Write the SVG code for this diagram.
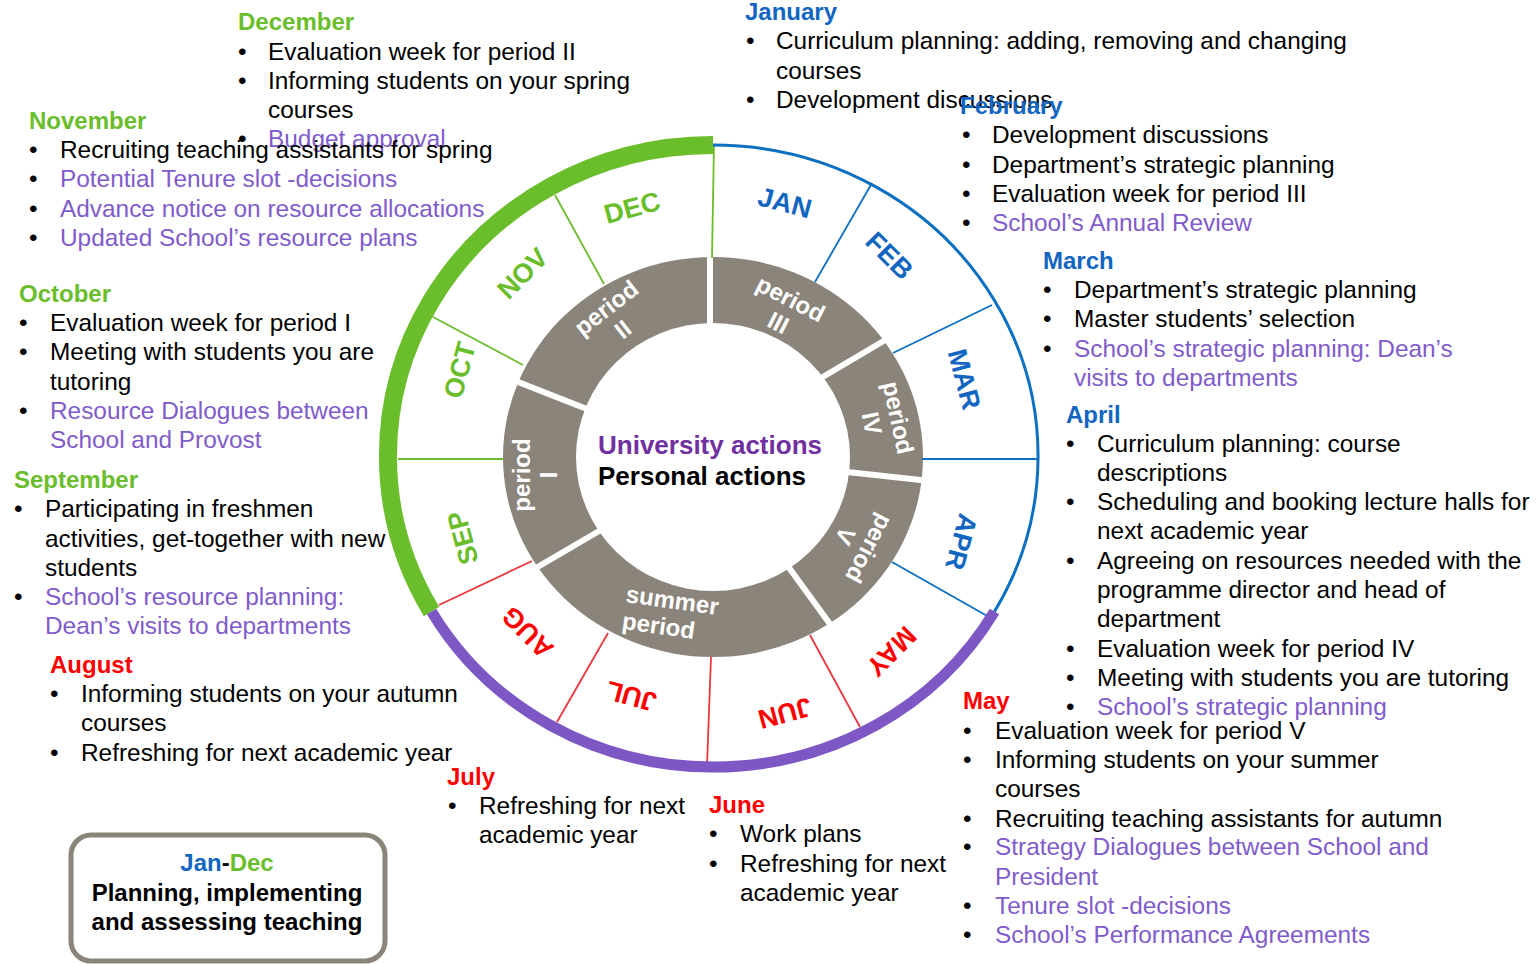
<svg xmlns="http://www.w3.org/2000/svg" width="1538" height="964" viewBox="0 0 1538 964">
<style>
text{font-family:"Liberation Sans",Arial,sans-serif;font-size:24.4px}
.h{font-weight:bold;font-size:24px}
.k{fill:#000}
.p{fill:#7F5BCB}
.g{fill:#6ABD2B}
.b{fill:#1266C1}
.r{fill:#FF0000}
.mo{font-weight:bold;font-size:27px;text-anchor:middle}
.pl{font-weight:bold;font-size:24px;fill:#fff;text-anchor:middle}
.gap{stroke:#fff;stroke-width:6}
.dg{stroke:#6ABD2B;stroke-width:1.8}
.dr{stroke:#E8383D;stroke-width:1.8}
.db{stroke:#0B6FC2;stroke-width:1.8}
</style>
<rect width="1538" height="964" fill="#fff"/>

<g id="wheel">
  <ellipse cx="713" cy="457" rx="210" ry="200" fill="#8A847B"/>
  <g id="period-gaps">
    <line class="gap" x1="710" y1="250" x2="710" y2="335"/>
    <line class="gap" x1="816" y1="381" x2="892" y2="336"/>
    <line class="gap" x1="838" y1="471" x2="930" y2="481"/>
    <line class="gap" x1="782" y1="558" x2="835" y2="631"/>
    <line class="gap" x1="606" y1="527" x2="529" y2="572"/>
    <line class="gap" x1="508" y1="378" x2="592" y2="411"/>
  </g>
  <ellipse cx="713" cy="457" rx="137" ry="134" fill="#fff"/>
</g>

<g id="connectors">
  <line class="dg" x1="712" y1="258" x2="714" y2="144"/>
  <line class="dg" x1="604" y1="284" x2="555" y2="195"/>
  <line class="dg" x1="523" y1="365" x2="433" y2="317"/>
  <line class="dg" x1="503" y1="459" x2="398" y2="459"/>
  <line class="dr" x1="532" y1="561" x2="439" y2="605"/>
  <line class="dr" x1="608" y1="633" x2="557" y2="722"/>
  <line class="dr" x1="711" y1="657" x2="707" y2="766"/>
  <line class="dr" x1="810" y1="635" x2="860" y2="727"/>
  <line class="db" x1="815" y1="282" x2="872" y2="183"/>
  <line class="db" x1="893" y1="353" x2="992" y2="305"/>
  <line class="db" x1="922" y1="459" x2="1038" y2="459"/>
  <line class="db" x1="892" y1="562" x2="989" y2="617"/>
</g>

<g id="outer-ring" fill="none">
  <path d="M 431.5 611.5 A 325 311 0 0 1 713 145" stroke="#6ABD2B" stroke-width="18"/>
  <path d="M 713 145 A 325 311 0 0 1 994.5 611.5" stroke="#0B6FC2" stroke-width="3"/>
  <path d="M 994.5 611.5 A 325 311 0 0 1 431.5 611.5" stroke="#7D57C4" stroke-width="11"/>
</g>

<g id="months">
  <text class="mo b" transform="translate(785,202) rotate(15)" y="10">JAN</text>
  <text class="mo b" transform="translate(890,255) rotate(45)" y="10">FEB</text>
  <text class="mo b" transform="translate(965,379) rotate(75)" y="10">MAR</text>
  <text class="mo b" transform="translate(962,542) rotate(105)" y="10">APR</text>
  <text class="mo r" transform="translate(892,652) rotate(135)" y="10">MAY</text>
  <text class="mo r" transform="translate(785,714) rotate(165)" y="10">JUN</text>
  <text class="mo r" transform="translate(631,697) rotate(195)" y="10">JUL</text>
  <text class="mo r" transform="translate(527,633) rotate(225)" y="10">AUG</text>
  <text class="mo g" transform="translate(462,538) rotate(-105)" y="10">SEP</text>
  <text class="mo g" transform="translate(459,370) rotate(-75)" y="10">OCT</text>
  <text class="mo g" transform="translate(522,273) rotate(-45)" y="10">NOV</text>
  <text class="mo g" transform="translate(632,207) rotate(-15)" y="10">DEC</text>
</g>

<g id="periods">
  <g transform="translate(523,475) rotate(-90)"><text class="pl" y="7">period</text><text class="pl" y="34">I</text></g>
  <g transform="translate(607,309) rotate(-38)"><text class="pl" y="7">period</text><text class="pl" y="34">II</text></g>
  <g transform="translate(790,300) rotate(27)"><text class="pl" y="7">period</text><text class="pl" y="34">III</text></g>
  <g transform="translate(897,418) rotate(78)"><text class="pl" y="7">period</text><text class="pl" y="34">IV</text></g>
  <g transform="translate(868,548) rotate(118)"><text class="pl" y="7">period</text><text class="pl" y="34">V</text></g>
  <g transform="translate(625,602) rotate(8)"><text class="pl" style="text-anchor:start">summer</text><text class="pl" style="text-anchor:start" y="27">period</text></g>
</g>

<g id="center">
  <text x="598" y="454" style="font-size:26px;font-weight:bold" fill="#7030A0">University actions</text>
  <text class="k" x="598" y="485" style="font-size:26px;font-weight:bold">Personal actions</text>
</g>

<g id="december">
  <text class="h g" x="238" y="30">December</text>
  <text class="k" x="238" y="60">•</text><text class="k" x="268" y="60">Evaluation week for period II</text>
  <text class="k" x="238" y="89">•</text><text class="k" x="268" y="89">Informing students on your spring</text>
  <text class="k" x="268" y="118">courses</text>
  <text class="k" x="238" y="147">•</text><text class="p" x="268" y="147">Budget approval</text>
</g>

<g id="january">
  <text class="h b" x="745" y="20">January</text>
  <text class="k" x="746" y="49">•</text><text class="k" x="776" y="49">Curriculum planning: adding, removing and changing</text>
  <text class="k" x="776" y="79">courses</text>
  <text class="k" x="746" y="108">•</text><text class="k" x="776" y="108">Development discussions</text>
</g>

<g id="february">
  <text class="h b" x="960" y="114">February</text>
  <text class="k" x="962" y="143">•</text><text class="k" x="992" y="143">Development discussions</text>
  <text class="k" x="962" y="173">•</text><text class="k" x="992" y="173">Department’s strategic planning</text>
  <text class="k" x="962" y="202">•</text><text class="k" x="992" y="202">Evaluation week for period III</text>
  <text class="k" x="962" y="231">•</text><text class="p" x="992" y="231">School’s Annual Review</text>
</g>

<g id="march">
  <text class="h b" x="1043" y="269">March</text>
  <text class="k" x="1043" y="298">•</text><text class="k" x="1074" y="298">Department’s strategic planning</text>
  <text class="k" x="1043" y="327">•</text><text class="k" x="1074" y="327">Master students’ selection</text>
  <text class="k" x="1043" y="357">•</text><text class="p" x="1074" y="357">School’s strategic planning: Dean’s</text>
  <text class="p" x="1074" y="386">visits to departments</text>
</g>

<g id="april">
  <text class="h b" x="1066" y="423">April</text>
  <text class="k" x="1066" y="452">•</text><text class="k" x="1097" y="452">Curriculum planning: course</text>
  <text class="k" x="1097" y="481">descriptions</text>
  <text class="k" x="1066" y="510">•</text><text class="k" x="1097" y="510">Scheduling and booking lecture halls for</text>
  <text class="k" x="1097" y="539">next academic year</text>
  <text class="k" x="1066" y="569">•</text><text class="k" x="1097" y="569">Agreeing on resources needed with the</text>
  <text class="k" x="1097" y="598">programme director and head of</text>
  <text class="k" x="1097" y="627">department</text>
  <text class="k" x="1066" y="657">•</text><text class="k" x="1097" y="657">Evaluation week for period IV</text>
  <text class="k" x="1066" y="686">•</text><text class="k" x="1097" y="686">Meeting with students you are tutoring</text>
  <text class="k" x="1066" y="715">•</text><text class="p" x="1097" y="715">School’s strategic planning</text>
</g>

<g id="may">
  <text class="h r" x="963" y="709">May</text>
  <text class="k" x="963" y="739">•</text><text class="k" x="995" y="739">Evaluation week for period V</text>
  <text class="k" x="963" y="768">•</text><text class="k" x="995" y="768">Informing students on your summer</text>
  <text class="k" x="995" y="797">courses</text>
  <text class="k" x="963" y="827">•</text><text class="k" x="995" y="827">Recruiting teaching assistants for autumn</text>
  <text class="k" x="963" y="855">•</text><text class="p" x="995" y="855">Strategy Dialogues between School and</text>
  <text class="p" x="995" y="885">President</text>
  <text class="k" x="963" y="914">•</text><text class="p" x="995" y="914">Tenure slot -decisions</text>
  <text class="k" x="963" y="943">•</text><text class="p" x="995" y="943">School’s Performance Agreements</text>
</g>

<g id="june">
  <text class="h r" x="709" y="813">June</text>
  <text class="k" x="709" y="842">•</text><text class="k" x="740" y="842">Work plans</text>
  <text class="k" x="709" y="872">•</text><text class="k" x="740" y="872">Refreshing for next</text>
  <text class="k" x="740" y="901">academic year</text>
</g>

<g id="july">
  <text class="h r" x="447" y="785">July</text>
  <text class="k" x="448" y="814">•</text><text class="k" x="479" y="814">Refreshing for next</text>
  <text class="k" x="479" y="843">academic year</text>
</g>

<g id="august">
  <text class="h r" x="50" y="673">August</text>
  <text class="k" x="50" y="702">•</text><text class="k" x="81" y="702">Informing students on your autumn</text>
  <text class="k" x="81" y="731">courses</text>
  <text class="k" x="50" y="761">•</text><text class="k" x="81" y="761">Refreshing for next academic year</text>
</g>

<g id="september">
  <text class="h g" x="14" y="488">September</text>
  <text class="k" x="14" y="517">•</text><text class="k" x="45" y="517">Participating in freshmen</text>
  <text class="k" x="45" y="547">activities, get-together with new</text>
  <text class="k" x="45" y="576">students</text>
  <text class="k" x="14" y="605">•</text><text class="p" x="45" y="605">School’s resource planning:</text>
  <text class="p" x="45" y="634">Dean’s visits to departments</text>
</g>

<g id="october">
  <text class="h g" x="19" y="302">October</text>
  <text class="k" x="19" y="331">•</text><text class="k" x="50" y="331">Evaluation week for period I</text>
  <text class="k" x="19" y="360">•</text><text class="k" x="50" y="360">Meeting with students you are</text>
  <text class="k" x="50" y="390">tutoring</text>
  <text class="k" x="19" y="419">•</text><text class="p" x="50" y="419">Resource Dialogues between</text>
  <text class="p" x="50" y="448">School and Provost</text>
</g>

<g id="november">
  <text class="h g" x="29" y="129">November</text>
  <text class="k" x="29" y="158">•</text><text class="k" x="60" y="158">Recruiting teaching assistants for spring</text>
  <text class="k" x="29" y="187">•</text><text class="p" x="60" y="187">Potential Tenure slot -decisions</text>
  <text class="k" x="29" y="217">•</text><text class="p" x="60" y="217">Advance notice on resource allocations</text>
  <text class="k" x="29" y="246">•</text><text class="p" x="60" y="246">Updated School’s resource plans</text>
</g>

<g id="legend">
  <rect x="71" y="835" width="314" height="126" rx="20" ry="20" fill="#fff" stroke="#8A847B" stroke-width="5"/>
  <text class="h" x="227" y="871" text-anchor="middle"><tspan class="b">Jan</tspan><tspan class="k">-</tspan><tspan class="g">Dec</tspan></text>
  <text class="h k" x="227" y="901" text-anchor="middle">Planning, implementing</text>
  <text class="h k" x="227" y="930" text-anchor="middle">and assessing teaching</text>
</g>
</svg>
